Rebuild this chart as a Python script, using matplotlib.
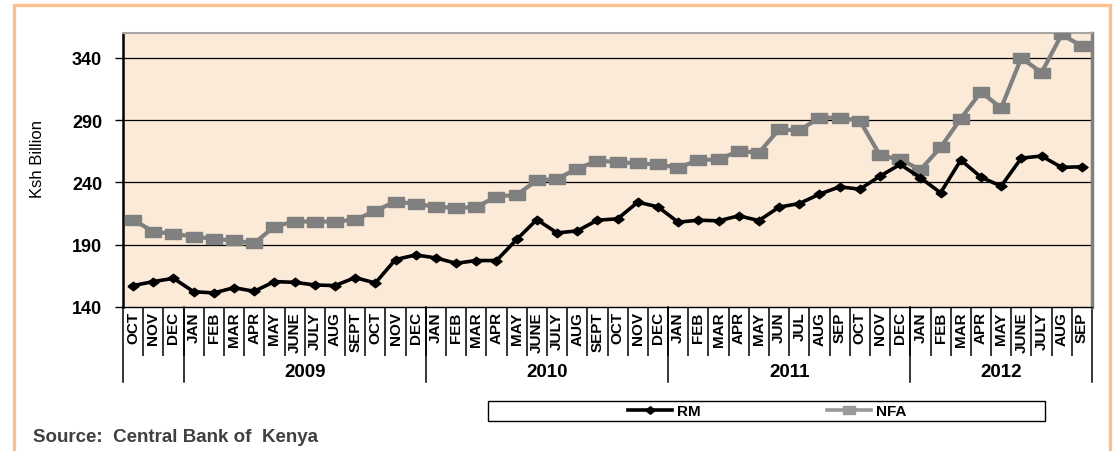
import matplotlib.pyplot as plt
from matplotlib.lines import Line2D
from matplotlib.patches import Rectangle
from matplotlib.transforms import blended_transform_factory

plt.rcParams['font.family'] = ['Liberation Sans', 'DejaVu Sans']

months = ['OCT', 'NOV', 'DEC',
          'JAN', 'FEB', 'MAR', 'APR', 'MAY', 'JUNE', 'JULY', 'AUG', 'SEPT', 'OCT', 'NOV', 'DEC',
          'JAN', 'FEB', 'MAR', 'APR', 'MAY', 'JUNE', 'JULY', 'AUG', 'SEPT', 'OCT', 'NOV', 'DEC',
          'JAN', 'FEB', 'MAR', 'APR', 'MAY', 'JUN', 'JUL', 'AUG', 'SEP', 'OCT', 'NOV', 'DEC',
          'JAN', 'FEB', 'MAR', 'APR', 'MAY', 'JUNE', 'JULY', 'AUG', 'SEP']
years = ['', '2009', '2010', '2011', '2012']
months_per_year = [3, 12, 12, 12, 9]

rm = [157.2, 160.4, 163.0, 152.3, 151.3, 155.5, 152.6, 160.4, 159.8, 157.7, 157.2, 163.6,
      159.3, 178.1, 181.8, 179.4, 175.1, 177.3, 177.3, 194.2, 210.2, 199.5, 201.1, 209.7,
      210.8, 224.2, 220.4, 208.1, 209.7, 209.2, 213.2, 209.4, 220.2, 223.1, 230.6, 236.5,
      234.6, 245.1, 254.5, 243.8, 231.7, 258.0, 244.3, 237.0, 259.6, 261.2, 252.1, 252.6]
nfa = [210.0, 200.6, 198.7, 196.6, 194.7, 193.4, 191.2, 204.6, 208.6, 208.6, 208.6, 210.0,
       217.2, 224.7, 222.8, 220.4, 219.6, 220.2, 228.7, 230.1, 241.6, 242.9, 251.0, 257.4,
       256.4, 255.3, 254.5, 251.8, 258.0, 258.5, 265.2, 263.9, 282.6, 281.8, 292.0, 292.0,
       289.6, 261.7, 258.5, 250.2, 268.2, 291.2, 312.7, 299.8, 340.0, 328.2, 358.8, 349.4]
yticks = [140, 190, 240, 290, 340]

# slightly wide markers
diamond = [(-1.3, 0), (0, 1), (1.3, 0), (0, -1), (-1.3, 0)]
box = [(-1.4, -1), (1.4, -1), (1.4, 1), (-1.4, 1), (-1.4, -1)]

fig = plt.figure(figsize=(11.13, 4.52), dpi=100)
ax = fig.add_axes([123 / 1113, 1 - 308 / 452, 969 / 1113, 274 / 452])
ax.set_facecolor('#FCEAD8')

x = list(range(len(months)))
ax.plot(x, rm, color='black', lw=2.6, marker=diamond, ms=8, zorder=4)
ax.plot(x, nfa, color='#808080', lw=3.0, marker=box, ms=11, zorder=3)

ax.set_xlim(-0.5, len(months) - 0.5)
ax.set_ylim(140, 360)
ax.set_yticks(yticks)
ax.set_yticklabels([str(v) for v in yticks], fontsize=13, fontweight='bold')
ax.tick_params(axis='y', length=6, width=1, pad=9)
for v in yticks[1:]:
    ax.axhline(v, color='black', lw=0.9, zorder=1)

ax.set_xticks(x)
ax.set_xticklabels(months, rotation=90, fontsize=11, fontweight='bold')
ax.tick_params(axis='x', which='major', length=0, pad=3)
ax.set_xticks([i + 0.5 for i in range(len(months) - 1)], minor=True)
ax.tick_params(axis='x', which='minor', length=35, width=1.1, direction='out')

ax.spines['left'].set_linewidth(1.8)
ax.spines['bottom'].set_linewidth(1.0)
ax.spines['top'].set_color('#A6A6A6')
ax.spines['top'].set_linewidth(1.5)
ax.spines['right'].set_color('#808080')
ax.spines['right'].set_linewidth(2.5)

# year groups below the month labels
trans = blended_transform_factory(ax.transData, ax.transAxes)
start = -0.5
for name, n in zip(years, months_per_year):
    end = start + n
    ax.plot([start, start], [0, -0.274], color='black', lw=1.1, transform=trans, clip_on=False)
    if name:
        ax.text((start + end) / 2, -0.237, name, transform=trans, ha='center', va='center',
                fontsize=13.5, fontweight='bold')
    start = end
ax.plot([start, start], [0, -0.274], color='black', lw=1.1, transform=trans, clip_on=False)

# legend box
fig.patches.append(Rectangle((488 / 1113, 1 - 422 / 452), 557 / 1113, 20 / 452,
                             transform=fig.transFigure, fill=False, ec='black', lw=1.0))
handles = [Line2D([], [], color='black', lw=2.6, marker=diamond, ms=7),
           Line2D([], [], color='#999999', lw=2.6, marker=box, ms=9)]
fig.legend(handles, ['RM', 'NFA'], loc='center', bbox_to_anchor=(767 / 1113, 1 - 412 / 452),
           ncol=2, frameon=False, handlelength=2.9, handletextpad=0.3, columnspacing=8.3,
           prop={'size': 11, 'weight': 'bold'})

fig.text(37.5 / 1113, 1 - 159 / 452, 'Ksh Billion', rotation=90, ha='center', va='center',
         fontsize=12)
fig.text(33 / 1113, 1 - 438 / 452, 'Source:  Central Bank of  Kenya', ha='left', va='center',
         fontsize=13.5, fontweight='bold', color='#404040')

# outer frame
fig.patches.append(Rectangle((13.5 / 1113, -0.05), 1096 / 1113, 1.05 - 6 / 452,
                             transform=fig.transFigure, fill=False, ec='#FAC090', lw=2.4))

fig.savefig('out.png', dpi=100)
